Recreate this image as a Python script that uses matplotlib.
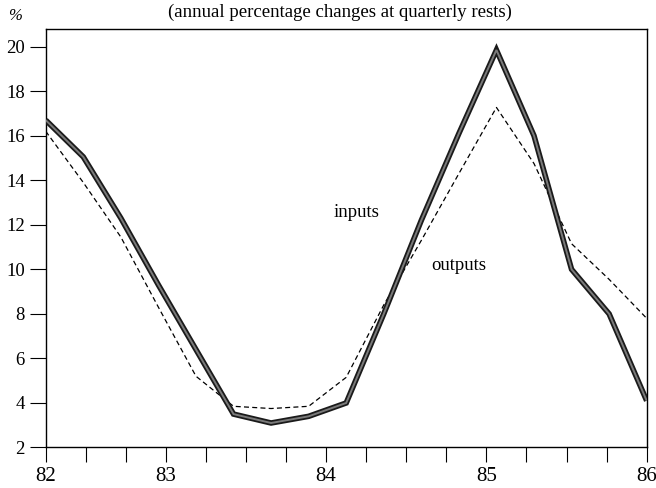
import numpy as np
import pandas as pd
import matplotlib
matplotlib.use("Agg")
import matplotlib.pyplot as plt

# kwartały 1982Q1 - 1986Q1
periods = pd.period_range("1982Q1", "1986Q1", freq="Q")
inputs = [16.7, 15.05, 12.3, 9.3, 6.4, 3.5, 3.1, 3.4, 4.0, 8.0, 12.2, 16.1,
          19.85, 16.0, 10.0, 8.0, 4.1]
outputs = [16.2, 13.9, 11.45, 8.3, 5.2, 3.85, 3.75, 3.85, 5.15, 8.4, 11.3,
           14.3, 17.27, 14.75, 11.15, 9.55, 7.8]

# podziałka osi x (16 kresek jak w oryginale)
x_tick_labels = ["82", "", "", "83", "", "", "", "84", "", "", "", "85",
                 "", "", "", "86"]
y_ticks = [2, 4, 6, 8, 10, 12, 14, 16, 18, 20]

title = "(annual percentage changes at quarterly rests)"

plt.rcParams["font.family"] = ["Liberation Serif", "DejaVu Serif"]

# oś x w latach (1982.0, 1982.25, ...)
x = np.asarray(periods.year + (periods.quarter - 1) / 4.0, dtype=float)

fig = plt.figure(figsize=(6.56, 4.88), dpi=100)
ax = fig.add_axes([0.0697, 0.083, 0.9161, 0.857])

# linia "inputs" - gruba, ciemna z szarym środkiem
ax.plot(x, inputs, color="#1a1a1a", lw=4.0, solid_joinstyle="miter",
        solid_capstyle="butt", zorder=3)
ax.plot(x, inputs, color="#7a7a7a", lw=1.4, solid_joinstyle="miter",
        solid_capstyle="butt", zorder=4)
# linia "outputs" - przerywana
ax.plot(x, outputs, color="black", lw=0.9, dashes=(4.0, 2.6), zorder=2)

ax.set_xlim(x[0], x[-1])
ax.set_ylim(2, 20.78)

ax.set_xticks(np.linspace(x[0], x[-1], len(x_tick_labels)))
ax.set_xticklabels(x_tick_labels, fontsize=15)
ax.set_yticks(y_ticks)
ax.set_yticklabels([str(v) for v in y_ticks], fontsize=13.5)
ax.tick_params(axis="x", direction="out", length=10.8, width=0.8, pad=3.0)
ax.tick_params(axis="y", direction="out", length=11.5, width=0.8, pad=3.5)

for s in ax.spines.values():
    s.set_linewidth(1.0)

ax.text(1984.07, 12.56, "inputs", fontsize=13.5, ha="center", va="center")
ax.text(1984.75, 10.18, "outputs", fontsize=13.5, ha="center", va="center")

fig.text(0.518, 0.975, title, fontsize=13.5, ha="center", va="center")
fig.text(0.023, 0.968, "%", fontsize=12, style="italic", ha="center",
         va="center")

fig.savefig("out.png", dpi=100)
